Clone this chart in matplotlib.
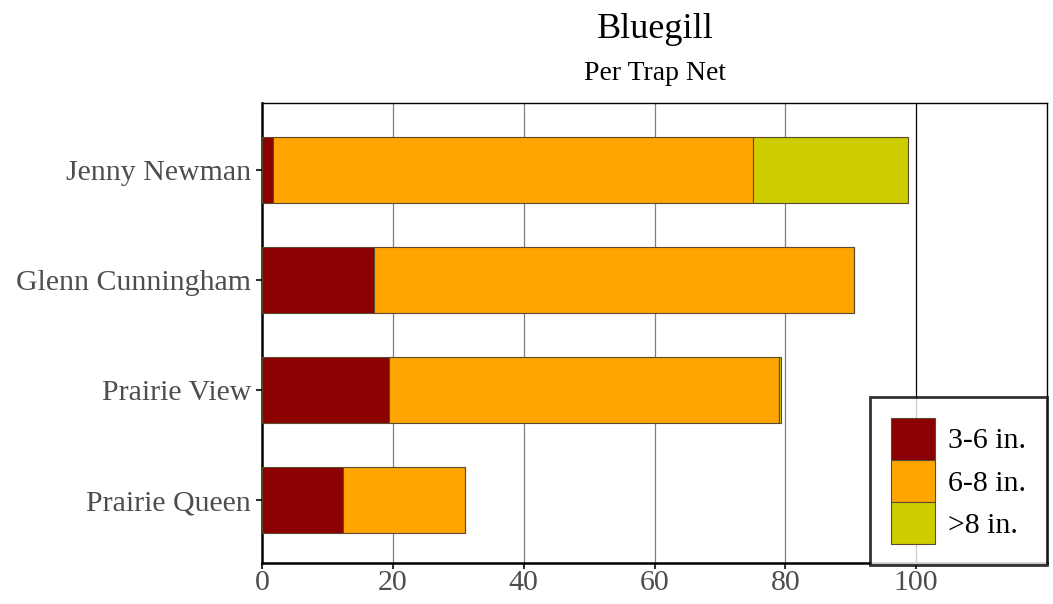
import matplotlib
matplotlib.use("Agg")
import matplotlib.pyplot as plt
import numpy as np

lakes = ["Prairie Queen", "Prairie View", "Glenn Cunningham", "Jenny Newman"]
size_classes = ["3-6 in.", "6-8 in.", ">8 in."]
small = [12.4, 19.4, 17.1, 1.7]
medium = [18.6, 59.6, 73.4, 73.4]
large = [0.0, 0.3, 0.0, 23.7]
x_ticks = [0, 20, 40, 60, 80, 100]

colours = ["#8b0000", "#ffa500", "#cdcd00"]

plt.rcParams['font.family'] = ['Liberation Serif', 'DejaVu Serif']


def main():
  fig = plt.figure(figsize=(10.53, 6.04), dpi=100)
  ax = fig.add_axes([262 / 1053, 1 - 563 / 604, 785 / 1053, 460 / 604])

  y = np.arange(len(lakes))
  left = np.zeros(len(lakes))
  for vals, c, lab in zip([small, medium, large], colours, size_classes):
    vals = np.array(vals)
    ax.barh(y, vals, left=left, height=0.6, color=c, edgecolor="#5a4a30",
            linewidth=0.8, label=lab, zorder=3)
    left = left + vals

  ax.set_xlim(0, 120)
  ax.set_ylim(-0.57, 3.61)
  ax.set_yticks(y)
  ax.set_yticklabels(lakes)
  ax.set_xticks(x_ticks)
  for xv in x_ticks[1:-1]:
    ax.axvline(xv, color="#7f7f7f", linewidth=0.9, zorder=1)
  ax.axvline(100, color="black", linewidth=0.9, zorder=1)

  ax.tick_params(axis="both", labelsize=21.5, labelcolor="#4d4d4d", color="#333333",
                 length=4, width=1.5)
  ax.tick_params(axis="y", pad=4)
  ax.tick_params(axis="x", pad=1)
  for side in ["left", "bottom"]:
    ax.spines[side].set_linewidth(1.8)
  for side in ["top", "right"]:
    ax.spines[side].set_linewidth(1.0)

  fig.text(655 / 1053, 1 - 29 / 604, "Bluegill", ha="center", va="center", fontsize=26)
  fig.text(655 / 1053, 1 - 74 / 604, "Per Trap Net", ha="center", va="center", fontsize=20)

  leg = ax.legend(loc="lower right", bbox_to_anchor=(1.0, -0.005), fontsize=21.5,
                  frameon=True, fancybox=False, edgecolor="black",
                  handlelength=1.45, handleheight=1.8, handletextpad=0.45,
                  labelspacing=0.0, borderpad=0.7, borderaxespad=0.0)
  leg.get_frame().set_linewidth(2.0)
  leg.set_zorder(5)

  fig.savefig("out.png", dpi=100)


if __name__ == "__main__":
  main()
